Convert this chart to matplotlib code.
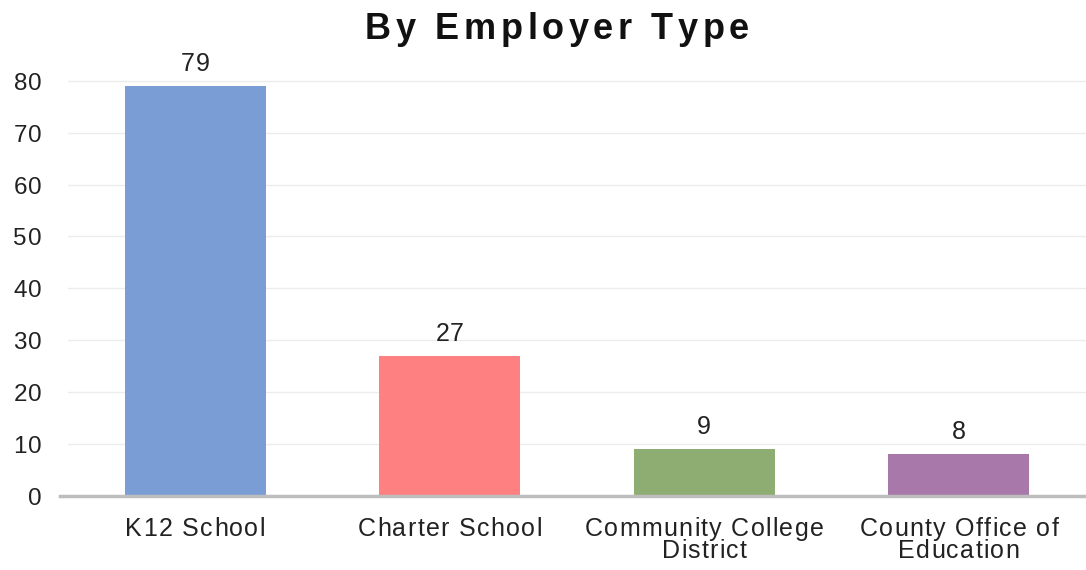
import matplotlib

matplotlib.use('Agg')
import matplotlib.pyplot as plt
from matplotlib.font_manager import FontProperties
from matplotlib.textpath import TextToPath

categories = ['K12 School', 'Charter School', 'Community College\nDistrict',
              'County Office of\nEducation']
counts = [79, 27, 9, 8]
colors = ['#7b9dd5', '#ff8080', '#8ead72', '#a878ab']
yticks = [0, 10, 20, 30, 40, 50, 60, 70, 80]
title = 'By Employer Type'

plt.rcParams['font.family'] = ['Liberation Sans', 'DejaVu Sans']
DPI = 100
PX = 72 / DPI  # points per pixel

t2p = TextToPath()


def advance(ch, prop):
    # advance width in points, measured between two H's
    w1 = t2p.get_text_width_height_descent('H' + ch + 'H', prop, ismath=False)[0]
    w0 = t2p.get_text_width_height_descent('HH', prop, ismath=False)[0]
    return w1 - w0


def spaced_text(ax, s, xy, xycoords, dx, dy, size, track_px, weight='normal',
                color='#222222', ha='center'):
    """Draw text with extra letter spacing, one glyph at a time."""
    prop = FontProperties(family='Liberation Sans', size=size, weight=weight)
    advs = [advance(c, prop) for c in s]
    track = track_px * PX
    total = sum(advs) + track * (len(s) - 1)
    if ha == 'center':
        start = -total / 2
    elif ha == 'right':
        start = -total
    else:
        start = 0
    pos = start
    for c, a in zip(s, advs):
        if c != ' ':
            ax.annotate(c, xy=xy, xycoords=xycoords,
                        xytext=(dx + pos + a / 2, dy), textcoords='offset points',
                        ha='center', va='baseline', fontproperties=prop,
                        color=color, annotation_clip=False)
        pos += a + track


fig = plt.figure(figsize=(10.86, 5.7), dpi=DPI)
ax = fig.add_axes([0.0626, 0.1298, 0.9374, 0.7467])

x = list(range(len(categories)))
bars = ax.bar(x, counts, width=0.555, color=colors, zorder=3)

ax.set_xlim(-0.5, 3.5)
ax.set_ylim(0, 82)
ax.set_yticks(yticks)
ax.set_xticks(x)
ax.set_xticklabels([])
ax.set_yticklabels([])
ax.tick_params(length=0)

ax.grid(axis='y', color='#ececec', linewidth=1, zorder=0)
for side in ['top', 'right', 'left', 'bottom']:
    ax.spines[side].set_visible(False)
# baseline runs a little past the left edge of the grid
ax.axhline(0, xmin=-0.008, xmax=1, color='#bdbdbd', linewidth=2.5,
           clip_on=False, zorder=4)

# value labels above bars
for rect, val in zip(bars, counts):
    spaced_text(ax, str(val), (rect.get_x() + rect.get_width() / 2, val),
                'data', 0, 15 * PX, 18, 0.6)

# category labels
for xi, label in zip(x, categories):
    for k, line in enumerate(label.split('\n')):
        spaced_text(ax, line, (xi, 0), 'data', 0, -(40 + 22 * k) * PX, 18,
                    1.3)

# y tick labels
for yv in yticks:
    spaced_text(ax, str(yv), (0, yv), ('axes fraction', 'data'),
                -26 * PX, -9 * PX, 17.5, 1.5, ha='right')

# title
spaced_text(ax, title, (557, 570 - 39), 'figure pixels', 0, 0, 26, 4.6,
            weight='bold', color='#111111')

fig.savefig('out.png', dpi=DPI)
